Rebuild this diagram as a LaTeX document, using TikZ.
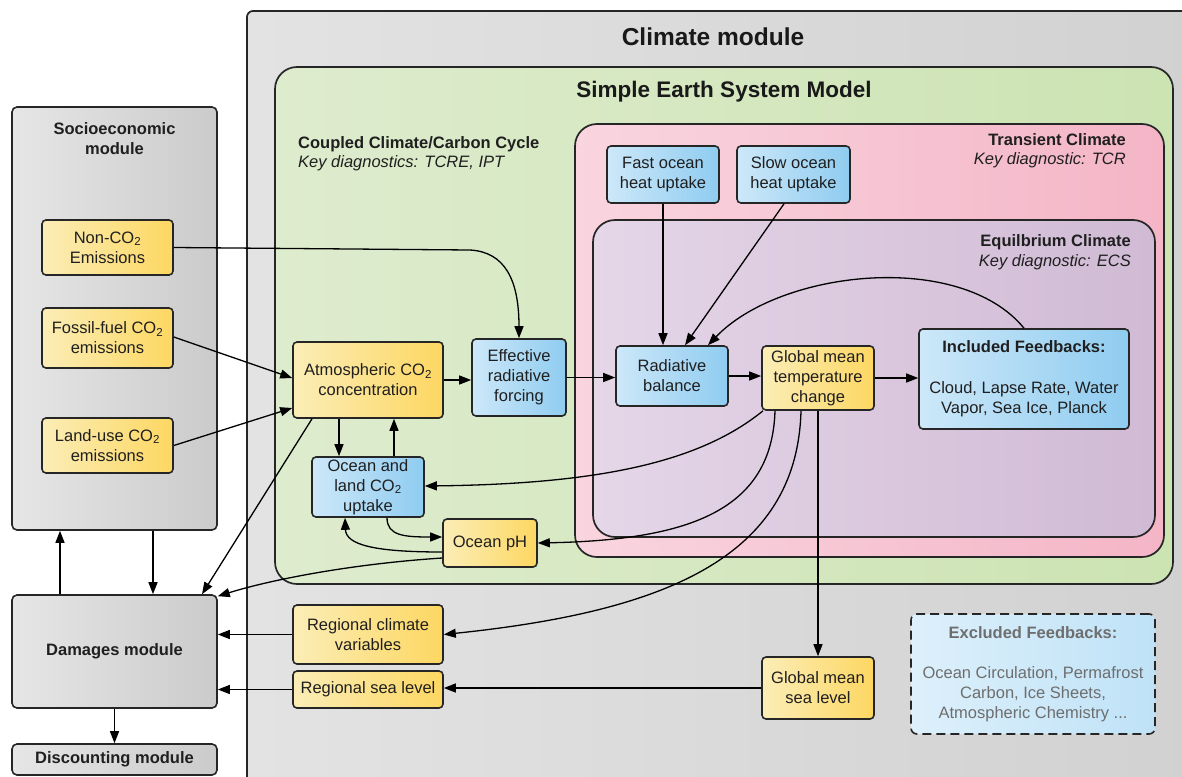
\documentclass[tikz,border=0pt]{standalone}
\usepackage{fontspec}
\setmainfont{Liberation Sans}
\usetikzlibrary{arrows.meta}
\definecolor{yelL}{HTML}{FBEDB6}
\definecolor{yelR}{HTML}{FDD762}
\definecolor{bluL}{HTML}{CDE8F9}
\definecolor{bluR}{HTML}{8FCCF0}
\definecolor{gryL}{HTML}{E6E6E6}
\definecolor{gryR}{HTML}{CBCBCB}
\definecolor{cmL}{HTML}{E3E3E3}
\definecolor{cmR}{HTML}{D1D1D1}
\definecolor{grnL}{HTML}{DEECCE}
\definecolor{grnR}{HTML}{CCE3B2}
\definecolor{pnkL}{HTML}{F9D5DF}
\definecolor{pnkR}{HTML}{F4B5C7}
\definecolor{prpL}{HTML}{E5D6E8}
\definecolor{prpR}{HTML}{D0BAD4}
\definecolor{exL}{HTML}{DDF0FB}
\definecolor{exR}{HTML}{BFE2F7}
\definecolor{edge}{HTML}{262626}
\definecolor{exgray}{HTML}{6E6E6E}
\begin{document}
\begin{tikzpicture}[x=1pt,y=-1pt,
  box/.style={draw=edge, line width=1.6pt, rounded corners=4pt, align=center, inner sep=0pt,
    font=\fontsize{16.5}{20}\selectfont, text=black!88},
  ybox/.style={box, left color=yelL, right color=yelR},
  bbox/.style={box, left color=bluL, right color=bluR},
  gbox/.style={box, left color=gryL, right color=gryR, rounded corners=5pt,
    font=\bfseries\fontsize{16.5}{20}\selectfont},
  cont/.style={draw=edge, line width=1.7pt},
  arr/.style={-{Triangle[length=12pt,width=9pt]}, line width=1.3pt, draw=black},
  ttl/.style={font=\bfseries\fontsize{16.5}{20}\selectfont, text=black!88, inner sep=0pt},
  sub/.style={font=\itshape\fontsize{16.5}{20}\selectfont, text=black!88, inner sep=0pt}
]
\useasboundingbox (0,0) rectangle (1182,776);
\clip (0,0) rectangle (1182,776);
% containers
\draw[cont, rounded corners=6pt, left color=cmL, right color=cmR] (247,11) rectangle (1200,800);
\draw[cont, rounded corners=22pt, left color=grnL, right color=grnR] (275,67) rectangle (1173,584);
\draw[cont, rounded corners=22pt, left color=pnkL, right color=pnkR] (575,124) rectangle (1164,557);
\draw[cont, rounded corners=22pt, left color=prpL, right color=prpR] (593,220) rectangle (1155,537);

% titles
\node[font=\bfseries\fontsize{24.5}{28}\selectfont, text=black!90] (climT) at (713,37) {Climate module};
\node[font=\bfseries\fontsize{22.5}{26}\selectfont, text=black!90] (sesmT) at (724,92) {Simple Earth System Model};
\node[ttl, anchor=west] (cccT) at (298,144) {Coupled Climate/Carbon Cycle};
\node[sub, anchor=west] (cccK) at (298,163) {Key diagnostics: TCRE, IPT};
\node[ttl, anchor=east] (trT) at (1126,140) {Transient Climate};
\node[sub, anchor=east] (trK) at (1126,160) {Key diagnostic: TCR};
\node[ttl, anchor=east] (eqT) at (1131,242) {Equilbrium Climate};
\node[sub, anchor=east] (eqK) at (1131,262) {Key diagnostic: ECS};

% socioeconomic
\node[gbox, minimum width=205pt, minimum height=423pt] (socio) at (114.5,318.5) {};
\node[font=\bfseries\fontsize{16.5}{20}\selectfont, align=center, text=black!88] (socioT) at (114.5,139) {Socioeconomic\\module};
\node[ybox, minimum width=131pt, minimum height=55pt] (nonco2) at (107.5,247.5) {Non-CO\textsubscript{2}\\Emissions};
\node[ybox, minimum width=131pt, minimum height=60pt] (fossil) at (107.5,338) {Fossil-fuel CO\textsubscript{2}\\emissions};
\node[ybox, minimum width=131pt, minimum height=55pt] (landuse) at (107.5,445.5) {Land-use CO\textsubscript{2}\\emissions};
\node[gbox, minimum width=205pt, minimum height=113pt] (damages) at (114.5,651.5) {Damages module};
\node[gbox, minimum width=205pt, minimum height=31pt] (disc) at (114.5,759.5) {Discounting module};

% carbon cycle
\node[ybox, minimum width=150pt, minimum height=76pt] (atm) at (368,380) {Atmospheric CO\textsubscript{2}\\concentration};
\node[bbox, minimum width=94pt, minimum height=77pt] (erf) at (519,377.5) {Effective\\radiative\\forcing};
\node[bbox, minimum width=112pt, minimum height=60pt] (uptake) at (368,487) {Ocean and\\land CO\textsubscript{2}\\uptake};
\node[ybox, minimum width=94pt, minimum height=48pt] (ph) at (490,543) {Ocean pH};

% climate
\node[bbox, minimum width=112pt, minimum height=57pt] (fast) at (663,174.5) {Fast ocean\\heat uptake};
\node[bbox, minimum width=113pt, minimum height=57pt] (slow) at (793.5,174.5) {Slow ocean\\heat uptake};
\node[bbox, minimum width=112pt, minimum height=60pt] (rad) at (672,376) {Radiative\\balance};
\node[ybox, minimum width=112pt, minimum height=64pt] (gmt) at (818,378) {Global mean\\temperature\\change};
\node[bbox, minimum width=210pt, minimum height=100pt] (incl) at (1024,379) {\textbf{Included Feedbacks:}\\[21pt]Cloud, Lapse Rate, Water\\Vapor, Sea Ice, Planck};

% outside
\node[ybox, minimum width=150pt, minimum height=59pt] (rcv) at (368,634.5) {Regional climate\\variables};
\node[ybox, minimum width=150pt, minimum height=37pt] (rsl) at (368,689.5) {Regional sea level};
\node[ybox, minimum width=112pt, minimum height=62pt] (gmsl) at (818,688) {Global mean\\sea level};
\node[box, dashed, dash pattern=on 9pt off 5pt, rounded corners=6pt, left color=exL, right color=exR, text=exgray,
  minimum width=244pt, minimum height=120pt] (excl) at (1033,674)
  {\textbf{Excluded Feedbacks:}\\[20pt]Ocean Circulation, Permafrost\\Carbon, Ice Sheets,\\Atmospheric Chemistry ...};

% connectors
\draw[arr] (nonco2.east) -- (470,250) .. controls (505,252) and (519,280) .. (erf.north);
\draw[arr] ([yshift=1pt]fossil.east) -- ([yshift=2pt]atm.west);
\draw[arr] (landuse.east) -- ([yshift=-28pt]atm.west);
\draw[arr] (atm.east) -- (atm.east -| erf.west);
\draw[arr] (erf.east) -- (erf.east -| rad.west);
\draw[arr] (rad.east) -- (rad.east -| gmt.west);
\draw[arr] (gmt.east) -- (gmt.east -| incl.west);
\draw[arr] (incl.north) .. controls (960,250) and (780,270) .. ([xshift=36pt]rad.north);
\draw[arr] (fast.south) -- (fast.south |- rad.north);
\draw[arr] ([xshift=-9.5pt]slow.south) -- ([xshift=13pt]rad.north);
\draw[arr] ([xshift=-29pt]atm.south) -- ([xshift=-29pt]atm.south |- uptake.north);
\draw[arr] ([xshift=26pt]uptake.north) -- ([xshift=26pt]uptake.north |- atm.south);
\draw[arr] ([xshift=-55pt]gmt.south) .. controls (700,462) and (600,484) .. ([yshift=1pt]uptake.east);
\draw[arr] ([xshift=-43pt]gmt.south) .. controls (772,510) and (690,540) .. (ph.east);
\draw[arr] ([xshift=-17pt]gmt.south) .. controls (797,560) and (660,612) .. (rcv.east);
\draw[arr] (gmt.south) -- (gmsl.north);
\draw[arr] ([xshift=19pt]uptake.south) .. controls (387,536) and (405,537) .. ([yshift=6pt]ph.west);
\draw[arr] ([yshift=-9pt]ph.west) .. controls (375,552) and (346,545) .. ([xshift=-23pt]uptake.south);
\draw[arr] ([yshift=-15pt]ph.west) .. controls (350,564) and (270,580) .. ([yshift=-2pt]damages.north east);
\draw[arr] ([xshift=-56pt]atm.south) -- ([xshift=87.5pt]damages.north);
\draw[arr] (rcv.west) -- (rcv.west -| damages.east);
\draw[arr] (rsl.west) -- (rsl.west -| damages.east);
\draw[arr] (gmsl.west) -- (gmsl.west -| rsl.east);
\draw[arr] ([xshift=-54.5pt]damages.north) -- ([xshift=-54.5pt]damages.north |- socio.south);
\draw[arr] ([xshift=38.5pt]socio.south) -- ([xshift=38.5pt]socio.south |- damages.north);
\draw[arr] (damages.south) -- (disc.north);
\end{tikzpicture}
\end{document}
